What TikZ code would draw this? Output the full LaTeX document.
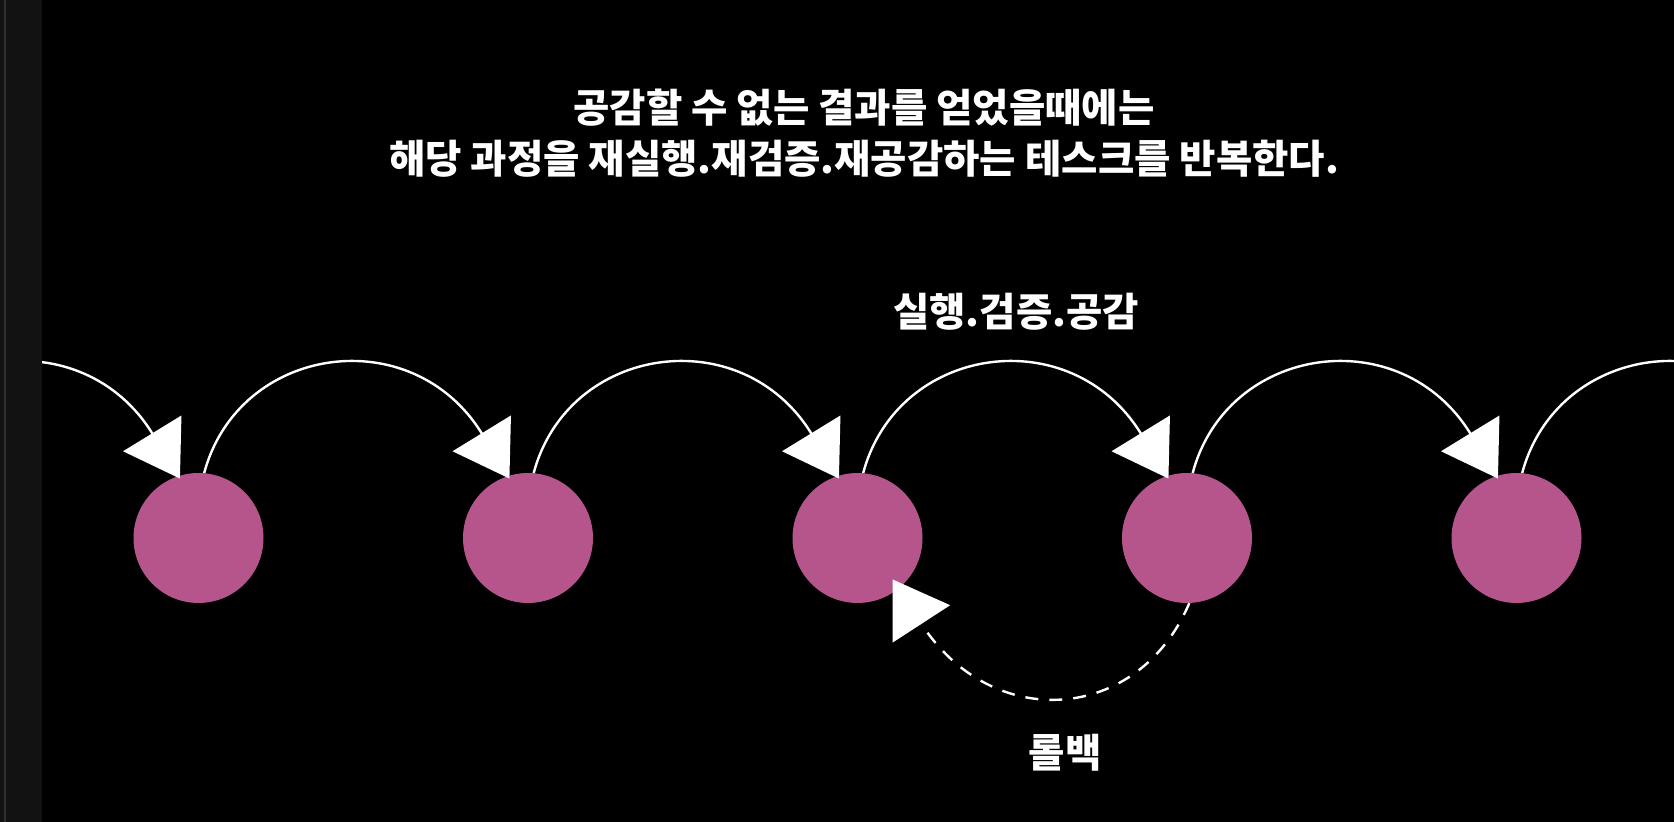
\documentclass[tikz,border=0pt]{standalone}
\usepackage{fontspec}
\newfontfamily\kr{Noto Sans CJK KR}
\usetikzlibrary{arrows.meta}
\definecolor{dotpink}{RGB}{181,85,140}
\definecolor{stripgray}{RGB}{18,18,18}
\definecolor{stripline}{RGB}{48,48,48}
\begin{document}
\begin{tikzpicture}[x=1pt,y=1pt,
  dotnode/.style={circle, minimum size=130pt, inner sep=0pt, fill=dotpink},
  ghost/.style={circle, minimum size=130pt, inner sep=0pt},
  flow/.style={draw=white, line width=2.4pt, -{Triangle[length=53pt,width=68pt]}},
  rollback/.style={draw=white, line width=2.4pt, dash pattern=on 13pt off 11pt, -{Triangle[length=53pt,width=68pt]}},
  label/.style={text=white, inner sep=0pt, font=\kr\bfseries\fontsize{39.5}{46}\selectfont}
]
\useasboundingbox (0,0) rectangle (1674,822);
\fill[black] (0,0) rectangle (1674,822);
\fill[stripgray] (0,0) rectangle (42,822);
\fill[stripline] (4,0) rectangle (6,822);

\node[ghost] (c0) at (-131,284) {};
\node[dotnode] (c1) at (198.5,284) {};
\node[dotnode] (c2) at (528,284) {};
\node[dotnode] (c3) at (857.5,284) {};
\node[dotnode] (c4) at (1187,284) {};
\node[dotnode] (c5) at (1516.5,284) {};
\node[ghost] (c6) at (1846,284) {};

\begin{scope}
\clip (42,0) rectangle (1674,822);
\foreach \a/\b in {c0/c1,c1/c2,c2/c3,c3/c4,c4/c5,c5/c6}{
  \draw[flow, shorten >=-3pt] (\a.85) to[out=75,in=121.5,out looseness=1.12,in looseness=1.54] (\b.108);
}
\draw[rollback, shorten >=-11pt] (c4.-88) to[out=-113,in=-57,out looseness=1.14,in looseness=1.52] (c3.-51);
\end{scope}

\node[label] (t1) at (864,714) {공감할 수 없는 결과를 얻었을때에는};
\node[label] (t2) at (864,663) {해당 과정을 재실행.재검증.재공감하는 테스크를 반복한다.};
\node[label] (mid) at (1016,510) {실행.검증.공감};
\node[label] (rb) at (1065,69) {롤백};
\end{tikzpicture}
\end{document}
